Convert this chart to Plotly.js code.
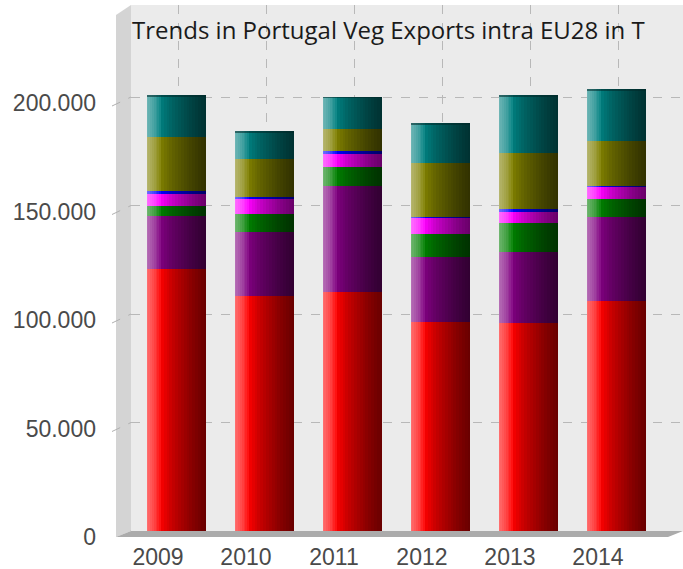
<!DOCTYPE html>
<html>
<head>
<meta charset="utf-8">
<script src="https://cdn.plot.ly/plotly-3.0.1.min.js"></script>
<style>html,body{margin:0;padding:0;background:#fff;}#chart{width:683px;height:569px;}</style>
</head>
<body>
<div id="chart"></div>
<script>
// ---- data (tonnes) ----
var years   = ["2009", "2010", "2011", "2012", "2013", "2014"];
var red     = [120600, 108400, 110000, 96300, 95700, 106100];
var purple  = [24700, 29200, 49000, 30100, 33000, 38400];
var green   = [4500, 8300, 8800, 10500, 13400, 8300];
var magenta = [5500, 7000, 5900, 7200, 4900, 5500];
var blue    = [1400, 800, 1400, 600, 1200, 600];
var olive   = [24700, 17800, 10100, 24700, 25800, 20900];
var teal    = [19500, 12800, 15000, 18400, 26700, 23700];
var seriesNames = ["Series 1", "Series 2", "Series 3", "Series 4", "Series 5", "Series 6", "Series 7"];
var yTicks = [0, 50000, 100000, 150000, 200000];
var titleText = "Trends in Portugal Veg Exports intra EU28 in T";

// ---- styling ----
var series = [red, purple, green, magenta, blue, olive, teal];
var colors = ["#ff0000", "#800080", "#008000", "#ff00ff", "#0000ff", "#808000", "#008080"];
var W = 0.68;        // bar width in category units
var SHIFT = -0.028;  // bars sit slightly in front of the back-wall gridlines
var x0 = -W / 2 + SHIFT;
var zeros = years.map(function(){ return 0; });

var traces = [];
var base = zeros.slice();
series.forEach(function(vals, i){
  traces.push({
    type: "bar", x: years, y: vals.slice(), base: base.slice(),
    name: seriesNames[i], width: W, offset: x0,
    marker: {color: colors[i], line: {width: 0}},
    hoverinfo: "x+y+name", showlegend: false
  });
  base = base.map(function(b, j){ return b + vals[j]; });
});
var totals = base.slice();

// cylinder shading with nested translucent layers (no seams)
var M = 8, aW = 1 - Math.pow(0.55, 1 / M);
for (var k = 1; k <= M; k++) {
  var wk = W * 0.24 * k / M;
  traces.push({type: "bar", x: years, y: totals, base: zeros, width: wk, offset: x0,
    marker: {color: "rgba(255,255,255," + aW.toFixed(4) + ")", line: {width: 0}},
    hoverinfo: "skip", showlegend: false});
}
var NB = 16, aB = 1 - Math.pow(0.42, 1 / NB);
for (var k2 = 0; k2 < NB; k2++) {
  var start = W * (0.24 + 0.76 * k2 / NB);
  traces.push({type: "bar", x: years, y: totals, base: zeros, width: W - start, offset: x0 + start,
    marker: {color: "rgba(0,0,0," + aB.toFixed(4) + ")", line: {width: 0}},
    hoverinfo: "skip", showlegend: false});
}
// dark rim at the top of each cylinder
traces.push({type: "bar", x: years, y: years.map(function(){ return 800; }),
  base: totals.map(function(t){ return t - 800; }), width: W, offset: x0,
  marker: {color: "rgba(0,40,40,0.55)", line: {width: 0}}, hoverinfo: "skip", showlegend: false});

// 3D box walls (paper coords)
var L = 131, R = 683, T = 5, B = 531;
function px(x){ return (x - L) / (R - L); }
function py(y){ return (B - y) / (B - T); }
var shapes = [
  {type: "path", xref: "paper", yref: "paper", layer: "below",
   path: "M" + px(116) + "," + py(537) + " L" + px(116) + "," + py(15) + " L" + px(131) + "," + py(5) + " L" + px(131) + "," + py(531) + " Z",
   fillcolor: "#d4d4d4", line: {width: 0}},
  {type: "path", xref: "paper", yref: "paper", layer: "below",
   path: "M" + px(116) + "," + py(537) + " L" + px(131) + "," + py(531) + " L" + px(683) + "," + py(531) + " L" + px(668) + "," + py(537) + " Z",
   fillcolor: "#ababab", line: {width: 0}}
];
// gridline continuation across the left wall
yTicks.forEach(function(v){
  shapes.push({type: "line", xref: "paper", yref: "y", ysizemode: "pixel", yanchor: v,
    x0: px(112), x1: px(131), y0: -9, y1: 0, layer: "above",
    line: {color: "#b0b0b0", width: 1, dash: "dash"}});
});

var layout = {
  width: 683, height: 569,
  margin: {l: L, r: 683 - R, t: T, b: 569 - B, pad: 0},
  paper_bgcolor: "#ffffff", plot_bgcolor: "#ebebeb",
  barmode: "overlay", bargap: 0,
  separators: ",.",
  showlegend: false,
  title: {text: titleText, font: {family: "'Open Sans', Lato, sans-serif", size: 24, color: "#1a1a1a"},
          x: 132 / 683, xanchor: "left", xref: "container", y: 1 - 31 / 569, yanchor: "middle", yref: "container"},
  xaxis: {type: "category", range: [-0.545, 5.728], showgrid: true, gridcolor: "#b8b8b8", griddash: "dash", gridwidth: 1,
          zeroline: false, showline: false, ticks: "",
          tickfont: {family: "'Liberation Sans', Arial, sans-serif", size: 23, color: "#4a4a4a"},
          ticklabelshift: -21, ticklabelstandoff: 10},
  yaxis: {range: [0, 242400], tickvals: yTicks, tickformat: ",d", showgrid: true, gridcolor: "#b8b8b8", griddash: "dash", gridwidth: 1,
          zeroline: false, showline: false, ticks: "",
          tickfont: {family: "'Liberation Sans', Arial, sans-serif", size: 23, color: "#4a4a4a"},
          ticklabelshift: 6, ticklabelstandoff: 34},
  shapes: shapes
};

Plotly.newPlot("chart", traces, layout, {staticPlot: true, displayModeBar: false});
</script>
</body>
</html>
